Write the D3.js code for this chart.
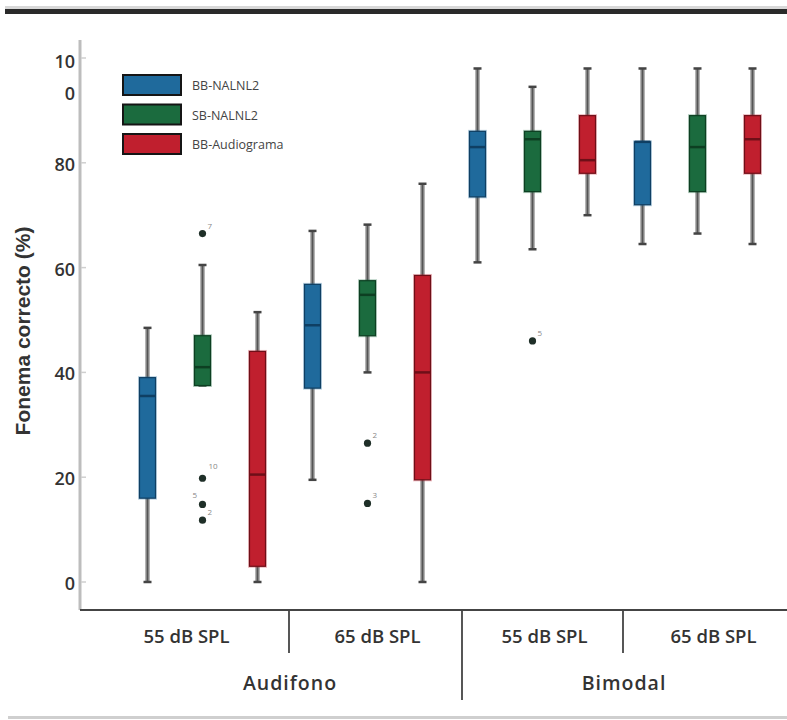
<!DOCTYPE html>
<html><head><meta charset="utf-8">
<script src="https://cdn.jsdelivr.net/npm/d3@7/dist/d3.min.js"></script>
<style>body{margin:0;background:#fff}svg{display:block}</style>
</head><body>
<svg id="c" width="787" height="720"></svg>
<script>
// ---- data ----
const groups = ["Audifono", "Bimodal"];
const subgroups = ["55 dB SPL", "65 dB SPL"];
const series = ["BB-NALNL2", "SB-NALNL2", "BB-Audiograma"];
const seriesColors = ["#1f6a9c", "#1b6b3e", "#c01f2e"];
const seriesDark = ["#0f3f63", "#0d3f22", "#6e0f18"];
// order of cells: Audifono 55, Audifono 65, Bimodal 55, Bimodal 65 ; each with 3 series
const whiskerLow  = [[0, 37.5, 0],   [19.5, 40, 0],   [61, 63.5, 70],   [64.5, 66.5, 64.5]];
const q1          = [[16, 37.5, 3],  [37, 47, 19.5],  [73.5, 74.5, 78], [72, 74.5, 78]];
const medians     = [[35.5, 41, 20.5],[49, 54.8, 40], [83, 84.5, 80.5], [84, 83, 84.5]];
const q3          = [[39, 47, 44],   [56.8, 57.5, 58.5],[86, 86, 89],   [84, 89, 89]];
const whiskerHigh = [[48.5, 60.5, 51.5],[67, 68.2, 76],[98, 94.5, 98],  [98, 98, 98]];
// outliers: [cell, series, value, label]
const outliers = [[0,1,66.5,"7"],[0,1,19.8,"10"],[0,1,14.8,"5"],[0,1,11.8,"2"],
                  [1,1,26.5,"2"],[1,1,15,"3"],[2,1,46,"5"]];
const yTicks = [0, 20, 40, 60, 80, 100];

// ---- layout ----
const svg = d3.select("#c");
const leftX = 80, topY = 40, baseY = 610;
const y = d3.scaleLinear().domain([0, 100]).range([582, 58]);
const cells = [];
groups.forEach(g => subgroups.forEach(s => cells.push(g + "|" + s)));
const xCell = d3.scaleBand().domain(cells).range([120, 780]).padding(0);
const serOffset = d3.scalePoint().domain(series).range([-55, 55]);
const boxW = 16;
const cx = (ci, si) => xCell(cells[ci]) + xCell.bandwidth() / 2 + serOffset(series[si]);

// frame lines
svg.append("rect").attr("x", 5).attr("y", 9).attr("width", 782).attr("height", 5).attr("fill", "#2a2a2a");
svg.append("rect").attr("x", 5).attr("y", 6).attr("width", 782).attr("height", 3).attr("fill", "#d8d8d8");
svg.append("rect").attr("x", 8).attr("y", 716).attr("width", 779).attr("height", 3).attr("fill", "#cfcfcf");

// y axis
svg.append("line").attr("x1", leftX).attr("x2", leftX).attr("y1", topY).attr("y2", baseY)
  .attr("stroke", "#bdbdbd").attr("stroke-width", 3);
const tickFont = sel => sel.attr("font-family", "Open Sans, sans-serif").attr("font-weight", 600)
  .attr("font-size", 18).attr("fill", "#333").attr("text-anchor", "end");
yTicks.forEach(t => {
  svg.append("line").attr("x1", leftX + 1).attr("x2", leftX + 6).attr("y1", y(t)).attr("y2", y(t))
    .attr("stroke", "#cfcfcf").attr("stroke-width", 1.5);
  if (t === 100) {
    svg.append("text").attr("x", leftX - 5).attr("y", y(t) + 10).call(tickFont).text("10");
    svg.append("text").attr("x", leftX - 5).attr("y", y(t) + 42).call(tickFont).text("0");
  } else {
    svg.append("text").attr("x", leftX - 5).attr("y", y(t) + 8).call(tickFont).text(t);
  }
});
svg.append("text").attr("transform", `translate(30,331) rotate(-90)`).attr("text-anchor", "middle")
  .attr("font-family", "Liberation Sans, Arial, sans-serif").attr("font-weight", 700).attr("font-size", 21)
  .attr("fill", "#333").text("Fonema correcto (%)");

// x axis
svg.append("line").attr("x1", leftX).attr("x2", 787).attr("y1", baseY).attr("y2", baseY)
  .attr("stroke", "#444").attr("stroke-width", 1.8);
const sepX = [];
for (let i = 1; i < cells.length; i++) sepX.push(xCell(cells[i]) + [4, 12, 8][i - 1]);
sepX.forEach((sx, i) => {
  svg.append("line").attr("x1", sx).attr("x2", sx).attr("y1", baseY).attr("y2", i === 1 ? 700 : 653)
    .attr("stroke", "#444").attr("stroke-width", 1.8);
});
const bounds = [leftX, ...sepX, 800];
const labFont = sel => sel.attr("font-family", "Open Sans, sans-serif").attr("font-weight", 600)
  .attr("font-size", 18.5).attr("fill", "#333").attr("text-anchor", "middle");
cells.forEach((c, i) => {
  svg.append("text").attr("x", (bounds[i] + bounds[i + 1]) / 2 + 2).attr("y", 643).call(labFont)
    .text(c.split("|")[1]);
});
groups.forEach((g, gi) => {
  svg.append("text").attr("x", sepX[gi * 2] + 1).attr("y", 690).call(labFont).attr("font-size", 19.5)
    .attr("letter-spacing", 1).text(g);
});

// boxes
cells.forEach((c, ci) => {
  series.forEach((s, si) => {
    const x0 = cx(ci, si);
    svg.append("line").attr("x1", x0).attr("x2", x0).attr("y1", y(whiskerLow[ci][si])).attr("y2", y(whiskerHigh[ci][si]))
      .attr("stroke", "#b5b5b5").attr("stroke-width", 5);
    svg.append("line").attr("x1", x0).attr("x2", x0).attr("y1", y(whiskerLow[ci][si])).attr("y2", y(whiskerHigh[ci][si]))
      .attr("stroke", "#555").attr("stroke-width", 2);
    [whiskerLow[ci][si], whiskerHigh[ci][si]].forEach(v => {
      svg.append("line").attr("x1", x0 - 4).attr("x2", x0 + 4).attr("y1", y(v)).attr("y2", y(v))
        .attr("stroke", "#444").attr("stroke-width", 2.5);
    });
    const yt = y(q3[ci][si]), yb = y(q1[ci][si]);
    svg.append("rect").attr("x", x0 - boxW / 2 - 1.5).attr("y", yt - 1.5).attr("width", boxW + 3).attr("height", Math.max(yb - yt, 1) + 3)
      .attr("fill", seriesColors[si]).attr("opacity", 0.3);
    svg.append("rect").attr("x", x0 - boxW / 2).attr("y", yt).attr("width", boxW).attr("height", Math.max(yb - yt, 1))
      .attr("fill", seriesColors[si]).attr("stroke", seriesDark[si]).attr("stroke-width", 1.2);
    svg.append("line").attr("x1", x0 - boxW / 2).attr("x2", x0 + boxW / 2).attr("y1", y(medians[ci][si])).attr("y2", y(medians[ci][si]))
      .attr("stroke", seriesDark[si]).attr("stroke-width", 2.5);
  });
});

// outliers
outliers.forEach(([ci, si, v, lab]) => {
  const x0 = cx(ci, si);
  svg.append("circle").attr("cx", x0).attr("cy", y(v)).attr("r", 3.6).attr("fill", "#1f2f28");
  let lx = x0 + 5, ly = y(v) - 5;
  if (lab === "5" && ci === 0) { lx = x0 - 10; ly = y(v) - 6; }
  if (lab === "10") { lx = x0 + 6; ly = y(v) - 9; }
  svg.append("text").attr("x", lx).attr("y", ly).attr("font-family", "Open Sans, sans-serif")
    .attr("font-size", 8).attr("fill", "#888").text(lab);
});

// legend
series.forEach((s, i) => {
  const ly = 75 + i * 29.5;
  svg.append("rect").attr("x", 123).attr("y", ly).attr("width", 58).attr("height", 20)
    .attr("fill", seriesColors[i]).attr("stroke", "#151515").attr("stroke-width", 2);
  svg.append("text").attr("x", 192).attr("y", ly + 15).attr("font-family", "Open Sans, sans-serif")
    .attr("font-size", 12.5).attr("fill", "#444").text(s);
});
</script>
</body></html>
